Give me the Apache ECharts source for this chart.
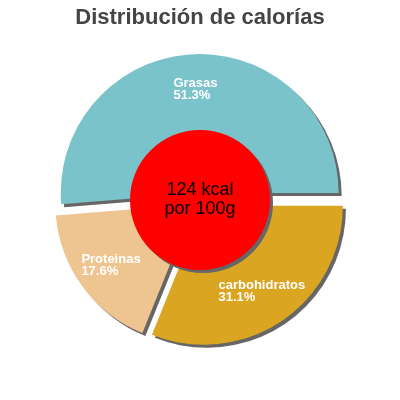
<!DOCTYPE html>
<html>
<head>
<meta charset="utf-8">
<script src="https://cdn.jsdelivr.net/npm/echarts@6/dist/echarts.min.js"></script>
<style>html,body{margin:0;padding:0;background:#fff}#c{width:400px;height:400px}</style>
</head>
<body>
<div id="c"></div>
<script>
const titleText = 'Distribución de calorías';
const categories = ['Grasas', 'Proteinas', 'carbohidratos'];
const percents = [51.3, 17.6, 31.1];
const colors = ['#7ac3cb', '#eec591', '#daa520'];
const centerLines = ['124 kcal', 'por 100g'];

const chart = echarts.init(document.getElementById('c'), null, {renderer: 'canvas'});
const sliceData = categories.map((n, i) => ({
  name: n, value: percents[i], selected: true,
  itemStyle: {color: colors[i]}
}));
const labelData = categories.map((n, i) => ({
  name: n, value: percents[i], selected: true
}));
const shadow = {shadowColor: '#666', shadowBlur: 0, shadowOffsetX: 3, shadowOffsetY: 3};
chart.setOption({
  animation: false,
  title: {
    text: titleText, left: 'center', top: 2,
    textStyle: {fontFamily: 'Liberation Sans, Arial', fontWeight: 'bold', fontSize: 22, color: '#444'}
  },
  series: [
    {
      type: 'pie', z: 2, center: ['50%', '50%'], radius: [0, 139],
      startAngle: 0, clockwise: false, silent: true,
      selectedMode: 'multiple', selectedOffset: 7,
      itemStyle: Object.assign({borderWidth: 0}, shadow),
      label: {show: false}, labelLine: {show: false},
      data: sliceData
    },
    {
      type: 'pie', z: 5, center: ['50%', '50%'], radius: [0, 70], silent: true,
      itemStyle: Object.assign({color: '#ff0000', borderWidth: 0}, shadow),
      label: {
        show: true, position: 'center', formatter: centerLines.join('\n'),
        fontFamily: 'Liberation Sans, Arial', fontSize: 18, lineHeight: 19, color: '#000'
      },
      labelLine: {show: false},
      data: [{name: 'kcal', value: 1}]
    },
    {
      type: 'pie', z: 6, center: ['50%', '50%'], radius: [62, 139],
      startAngle: 0, clockwise: false, silent: true,
      selectedMode: 'multiple', selectedOffset: 7,
      itemStyle: {color: 'rgba(0,0,0,0)', borderWidth: 0},
      label: {
        show: true, position: 'inside',
        formatter: p => '{t|' + p.name + '}\n{t|' + p.value.toFixed(1) + '%}',
        rich: {t: {align: 'left', fontFamily: 'Liberation Sans, Arial', fontWeight: 'bold', fontSize: 13, lineHeight: 12, color: '#fff'}}
      },
      labelLine: {show: false},
      data: labelData
    }
  ]
});
</script>
</body>
</html>
